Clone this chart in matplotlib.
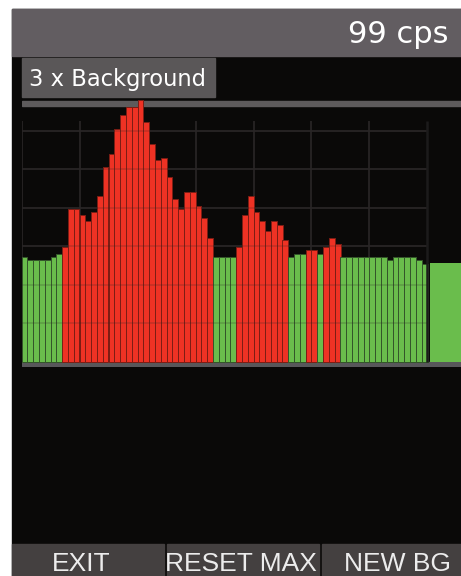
import numpy as np
import matplotlib.pyplot as plt
from matplotlib.patches import Rectangle

# counts per interval, oldest first (cps)
counts = [105, 102, 102, 102, 102, 105, 108, 115, 153, 153,
          147, 141, 150, 166, 195, 208, 233, 247, 255, 255,
          262, 240, 218, 202, 204, 185, 163, 153, 170, 170,
          156, 144, 124, 105, 105, 105, 105, 115, 147, 166,
          150, 141, 131, 141, 137, 122, 105, 108, 108, 112,
          112, 108, 115, 124, 118, 105, 105, 105, 105, 105,
          105, 105, 105, 102, 105, 105, 105, 105, 102, 98]
current_cps = 99
alarm_level = 110
grid_step = 38.5
alarm_label = '3 x Background'
buttons = ['EXIT', 'RESET MAX', 'NEW BG']

W, H = 461, 576
RED, RED_EDGE = '#ee3224', '#7c1d14'
GREEN, GREEN_EDGE = '#6abd4c', '#34552a'


def px_axes(fig, x0, y0, x1, y1):
    """Axes from pixel box (top-left origin)."""
    return fig.add_axes([x0 / W, 1 - y1 / H, (x1 - x0) / W, (y1 - y0) / H])


fig = plt.figure(figsize=(W / 100, H / 100), dpi=100)
fig.patch.set_facecolor('white')

# screen furniture drawn in pixel coords
bg = fig.add_axes([0, 0, 1, 1])
bg.set_xlim(0, W)
bg.set_ylim(H, 0)
bg.axis('off')
bg.add_patch(Rectangle((12, 9), 449, 567, color='#0a0908'))
bg.add_patch(Rectangle((12, 9), 449, 47, color='#625d61'))
bg.add_patch(Rectangle((22, 58), 193, 39, color='#5a5758'))
bg.text(448.5, 43.3, '%d cps' % current_cps, ha='right', va='baseline',
        fontsize=22, color='white', family='DejaVu Sans')
bg.text(29, 86, alarm_label, ha='left', va='baseline',
        fontsize=16.3, color='white', family='DejaVu Sans')

# soft keys along the bottom
key_boxes = [(12, 152), (167, 152), (322, 139)]
key_centres = [81.5, 241, 397.5]
for (kx, kw), cx, name in zip(key_boxes, key_centres, buttons):
    bg.add_patch(Rectangle((kx, 544), kw, 32, color='#444040'))
    bg.text(cx, 570.7, name, ha='center', va='baseline', fontsize=19,
            color='#ececec', family='Liberation Sans')

# the bar history
ax = px_axes(fig, 21.5, 95, 461, 366.5)
ax.set_xlim(-0.5, -0.5 + (461 - 21.5) / 5.8)
ax.set_ylim(-4.8, 266.7)
ax.axis('off')

n = len(counts)
x = np.arange(n)
hot = np.array(counts) > alarm_level
colors = [RED if h else GREEN for h in hot]
edges = [RED_EDGE if h else GREEN_EDGE for h in hot]

ax.axhspan(-4.3, 0, color='#58575a', zorder=1)
ax.axhspan(255.7, 261, color='#5e5b5c', zorder=1)

levels = grid_step * np.arange(1, 7)
ax.vlines(np.arange(-0.5, n - 1, 10), 0, 240.7, color='#2a2727', lw=1.2, zorder=1)
ax.vlines(n - 0.5, 0, 240.7, color='#1c1b1b', lw=1.8, zorder=3)
ax.hlines(levels, -0.5, n - 0.5, color='#2a2727', lw=1.2, zorder=1)

ax.bar(x, counts, width=1.0, color=colors, edgecolor=edges, linewidth=0.7, zorder=2)
# overlay grid faintly across the bars
ax.hlines(levels, -0.5, n - 0.5, color='#2a2727', lw=1.2, alpha=0.2, zorder=2.5)

# current reading as the wide bar at the right
ax.bar(n - 0.12, current_cps, width=10, align='edge', color=GREEN, lw=0, zorder=2)

fig.savefig('out.png', dpi=100, facecolor='white')
